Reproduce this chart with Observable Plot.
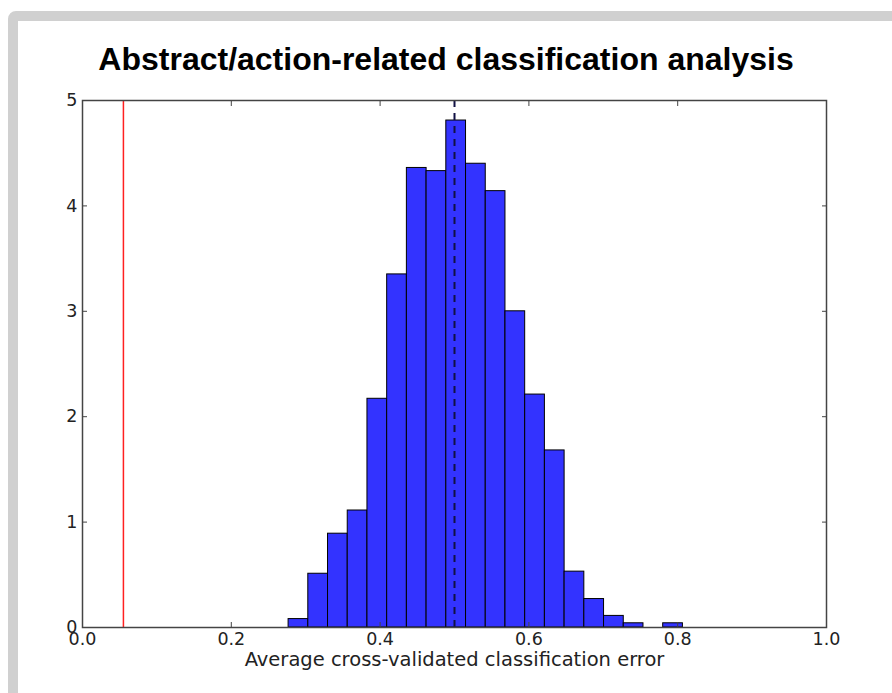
<!DOCTYPE html>
<html>
<head>
<meta charset="utf-8">
<script src="https://cdn.jsdelivr.net/npm/d3@7"></script>
<script src="https://cdn.jsdelivr.net/npm/@observablehq/plot@0.6"></script>
<style>
  html, body { margin: 0; padding: 0; background: #ffffff; }
  body { width: 892px; height: 693px; overflow: hidden; position: relative; }
  #frame { position: absolute; left: 8px; top: 11px; width: 1100px; height: 1100px;
           border: 10px solid #d0d0d0; border-radius: 8px; background: #ffffff; }
  #title { position: absolute; left: 0; top: 43px; width: 892px; text-align: center;
           font-family: "Liberation Sans", Arial, sans-serif; font-weight: bold; font-size: 32px;
           line-height: 32px; color: #000; }
  #chart { position: absolute; left: 0; top: 80px; }
</style>
</head>
<body>
<div id="frame"></div>
<div id="title">Abstract/action-related classification analysis</div>
<div id="chart"></div>
<script>
// Histogram bin edges (21 edges -> 20 bins)
const binEdges = [0.277, 0.3035, 0.330, 0.3565, 0.383, 0.4095, 0.436, 0.4625, 0.489, 0.5155,
                  0.542, 0.5685, 0.595, 0.6215, 0.648, 0.6745, 0.701, 0.7275, 0.754, 0.7805, 0.807];
// Density heights of each bin
const binHeights = [0.08, 0.51, 0.89, 1.11, 2.17, 3.35, 4.36, 4.33, 4.81, 4.40,
                    4.14, 3.00, 2.21, 1.68, 0.53, 0.27, 0.11, 0.04, 0.00, 0.04];
// Reference lines
const observedError = [0.055];   // red solid line
const chanceLevel = [0.5];       // dashed line
// Tick labels
const xTicks = [0, 0.2, 0.4, 0.6, 0.8, 1.0];
const yTicks = [0, 1, 2, 3, 4, 5];
const xLabel = "Average cross-validated classification error";

const bars = binHeights.map((h, i) => ({x1: binEdges[i], x2: binEdges[i + 1], y: h}))
                       .filter(d => d.y > 0);

const plot = Plot.plot({
  width: 892,
  height: 613,
  marginTop: 20,
  marginBottom: 66,
  marginLeft: 82,
  marginRight: 66,
  style: {fontFamily: "'DejaVu Sans', sans-serif", fontSize: "17.5px", color: "#222", background: "transparent"},
  x: {domain: [0, 1]},
  y: {domain: [0, 5]},
  marks: [
    Plot.rectY(bars, {x1: "x1", x2: "x2", y: "y", fill: "#3333ff", stroke: "#000", strokeWidth: 1, inset: 0}),
    Plot.ruleX(chanceLevel, {stroke: "#111144", strokeWidth: 2, strokeDasharray: "7,6"}),
    Plot.ruleX(observedError, {stroke: "#ff2020", strokeWidth: 1.5}),
    Plot.axisX(xTicks, {anchor: "bottom", tickSize: 0, tickPadding: 5, tickFormat: d3.format(".1f"), label: null}),
    Plot.axisX(xTicks, {anchor: "bottom", tickSize: -5, tickFormat: () => "", label: null, stroke: "#444"}),
    Plot.axisX(xTicks, {anchor: "top", tickSize: -5, tickFormat: () => "", label: null, stroke: "#444"}),
    Plot.axisY(yTicks, {anchor: "left", tickSize: 0, tickPadding: 5, tickFormat: d3.format("d"), label: null}),
    Plot.axisY(yTicks, {anchor: "left", tickSize: -5, tickFormat: () => "", label: null, stroke: "#444"}),
    Plot.axisY(yTicks, {anchor: "right", tickSize: -5, tickFormat: () => "", label: null, stroke: "#444"}),
    Plot.frame({stroke: "#444", strokeWidth: 1.5}),
    Plot.text([xLabel], {frameAnchor: "bottom", dy: 38, fontSize: 19.5, fill: "#222"})
  ]
});
document.getElementById("chart").appendChild(plot);
</script>
</body>
</html>
